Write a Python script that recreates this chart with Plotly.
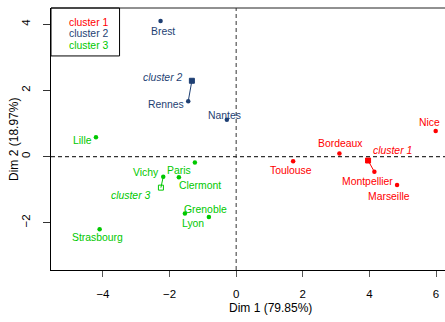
import plotly.graph_objects as go

# Individuals on the first factorial plane, coloured by cluster
cities = ["Brest", "Rennes", "Nantes",
          "Lille", "Vichy", "Paris", "Clermont", "Grenoble", "Lyon", "Strasbourg",
          "Nice", "Bordeaux", "Toulouse", "Montpellier", "Marseille"]
dim1 = [-2.27, -1.44, -0.28,
        -4.21, -2.19, -1.24, -1.72, -1.54, -0.82, -4.10,
        5.99, 3.10, 1.71, 4.15, 4.83]
dim2 = [4.10, 1.67, 1.11,
        0.58, -0.61, -0.18, -0.63, -1.72, -1.83, -2.20,
        0.77, 0.09, -0.14, -0.46, -0.86]
cluster = [2, 2, 2,
           3, 3, 3, 3, 3, 3, 3,
           1, 1, 1, 1, 1]

# Cluster centres and their closest individual
cluster_names = ["cluster 1", "cluster 2", "cluster 3"]
center_dim1 = [3.96, -1.33, -2.26]
center_dim2 = [-0.12, 2.29, -0.94]
paragon = ["Montpellier", "Rennes", "Vichy"]

x_ticks = [-4, -2, 0, 2, 4, 6]
y_ticks = [-2, 0, 2, 4]
x_title = "Dim 1 (79.85%)"
y_title = "Dim 2 (18.97%)"

# styling
colors = {1: "#FF0000", 2: "#1E3F73", 3: "#00C800"}
center_symbol = {1: "square", 2: "square", 3: "square-open"}
FONT = "Liberation Sans, Arial, Helvetica, sans-serif"
LABEL_SIZE = 10.4
# label offsets in pixels (right, down) from each point
label_offset = {
    "Brest": (2, 11), "Rennes": (-22, 3), "Nantes": (-2, -4),
    "Lille": (-13, 3), "Vichy": (-17, -4), "Paris": (-16, 8),
    "Clermont": (21, 8), "Grenoble": (21, -4), "Lyon": (-16, 6),
    "Strasbourg": (-2, 8), "Nice": (-6, -9), "Bordeaux": (1, -10),
    "Toulouse": (-2, 9), "Montpellier": (-7, 10), "Marseille": (-8, 12),
    "cluster 1": (24, -10), "cluster 2": (-29, -3), "cluster 3": (-30, 8),
}

fig = go.Figure()
annotations = []

# centre-to-paragon segments and centres
for k, name in enumerate(cluster_names):
    c = k + 1
    p = cities.index(paragon[k])
    fig.add_trace(go.Scatter(
        x=[center_dim1[k], dim1[p]], y=[center_dim2[k], dim2[p]],
        mode="lines", line=dict(color=colors[c], width=1),
        hoverinfo="skip", showlegend=False))
    fig.add_trace(go.Scatter(
        x=[center_dim1[k]], y=[center_dim2[k]], mode="markers",
        marker=dict(symbol=center_symbol[c], size=5, color=colors[c],
                    line=dict(color=colors[c], width=1)),
        showlegend=False, hoverinfo="skip"))
    dx, dy = label_offset[name]
    annotations.append(dict(
        x=center_dim1[k], y=center_dim2[k], text="<i>" + name + "</i>",
        showarrow=False, xshift=dx, yshift=-dy,
        font=dict(family=FONT, size=LABEL_SIZE, color=colors[c])))

# individuals
for c in (1, 2, 3):
    idx = [i for i, g in enumerate(cluster) if g == c]
    fig.add_trace(go.Scatter(
        x=[dim1[i] for i in idx], y=[dim2[i] for i in idx],
        mode="markers", marker=dict(size=4.5, color=colors[c]),
        text=[cities[i] for i in idx], hoverinfo="text", showlegend=False))
    for i in idx:
        dx, dy = label_offset[cities[i]]
        annotations.append(dict(
            x=dim1[i], y=dim2[i], text=cities[i], showarrow=False,
            xshift=dx, yshift=-dy,
            font=dict(family=FONT, size=LABEL_SIZE, color=colors[c])))

# legend box (text only)
legend_y = [0.944, 0.901, 0.855]
for k, name in enumerate(cluster_names):
    annotations.append(dict(
        x=0.096, y=legend_y[k], xref="paper", yref="paper", text=name,
        showarrow=False, xanchor="center", yanchor="middle",
        font=dict(family=FONT, size=LABEL_SIZE, color=colors[k + 1])))

# axis titles
annotations.append(dict(x=0.556, y=-0.144, xref="paper", yref="paper",
                        text=x_title, showarrow=False, yanchor="middle",
                        font=dict(family=FONT, size=12, color="#000")))
annotations.append(dict(x=-0.094, y=0.5, xref="paper", yref="paper",
                        text=y_title, showarrow=False, textangle=-90,
                        xanchor="center", yanchor="middle",
                        font=dict(family=FONT, size=12, color="#000")))

shapes = [
    # reference lines through the origin
    dict(type="line", xref="x", yref="paper", x0=0, x1=0, y0=0, y1=1,
         line=dict(color="#555", width=1.2, dash="4px,3px")),
    dict(type="line", xref="paper", yref="y", x0=0, x1=1, y0=0, y1=0,
         line=dict(color="#333", width=1.2, dash="4px,3px")),
    # top border
    dict(type="line", xref="paper", yref="paper", x0=0, x1=1, y0=1, y1=1,
         line=dict(color="#222", width=1)),
    # legend frame
    dict(type="rect", xref="paper", yref="paper", x0=0, x1=0.174,
         y0=0.817, y1=1, line=dict(color="#000", width=1),
         fillcolor="rgba(0,0,0,0)"),
]

fig.update_layout(
    width=445, height=322,
    margin=dict(l=51, r=0, t=8, b=52),
    paper_bgcolor="white", plot_bgcolor="white",
    font=dict(family=FONT, size=11.5, color="#000"),
    xaxis=dict(range=[-5.56, 6.27], tickvals=x_ticks,
               showgrid=False, zeroline=False,
               showline=True, linecolor="#000", linewidth=1,
               ticks="outside", ticklen=6, tickcolor="#555",
               ticklabelstandoff=7,
               tickfont=dict(family=FONT, size=11.5, color="#000")),
    yaxis=dict(range=[-3.43, 4.49], tickvals=y_ticks,
               showgrid=False, zeroline=False,
               showline=True, linecolor="#000", linewidth=1,
               ticks="outside", ticklen=7, tickcolor="#333",
               tickangle=-90, ticklabelstandoff=8,
               tickfont=dict(family=FONT, size=11.5, color="#000")),
    shapes=shapes,
    annotations=annotations,
    showlegend=False,
)

fig.write_html("out.html")
